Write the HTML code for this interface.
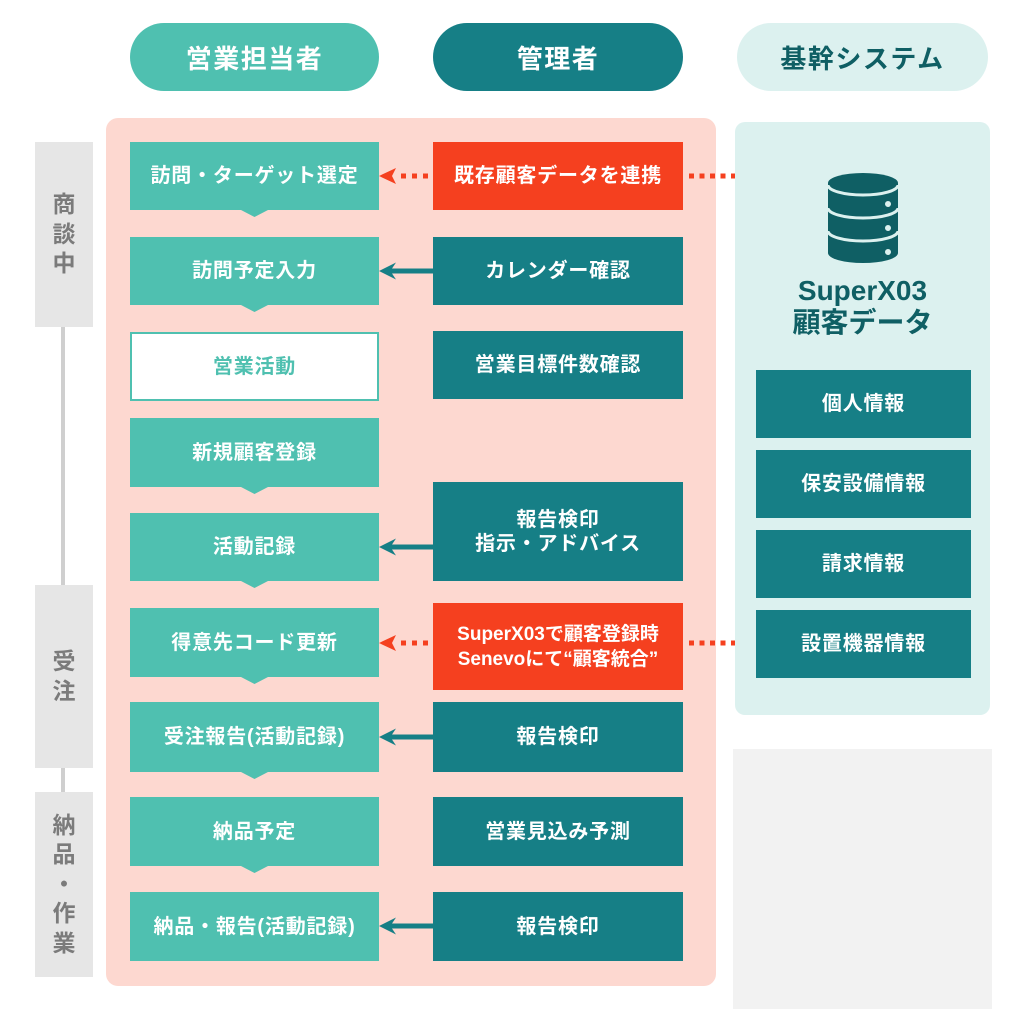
<!DOCTYPE html>
<html lang="ja">
<head>
<meta charset="utf-8">
<style>
  html, body { margin:0; padding:0; background:#ffffff; }
  body { width:1019px; height:1024px; position:relative; overflow:hidden;
    font-family:"Liberation Sans","Noto Sans CJK JP",sans-serif; font-weight:bold; }
  .a { position:absolute; box-sizing:border-box; display:flex; align-items:center; justify-content:center; text-align:center; }
  .pill { top:23px; height:68px; width:249px; border-radius:34px; font-size:26px; letter-spacing:1.5px; }
  .lt { background:#4fc0b0; color:#fff; }
  .dk { background:#167f86; color:#fff; }
  .rd { background:#f5401f; color:#fff; }
  .bx { font-size:20px; letter-spacing:0.8px; line-height:24px; }
  .L { left:130px; width:249px; }
  .M { left:433px; width:250px; }
  .R { left:756px; width:215px; }
  .stage { left:35px; width:58px; background:#e6e6e6; color:#7b7b7b; font-size:23px; line-height:29.5px; flex-direction:column; }
</style>
</head>
<body>
  <!-- headers -->
  <div class="a pill lt" style="left:130px;">営業担当者</div>
  <div class="a pill dk" style="left:433px;width:250px;">管理者</div>
  <div class="a pill" style="left:737px;width:251px;background:#dcf1ef;color:#0f5f64;">基幹システム</div>

  <!-- stage connector -->
  <div style="position:absolute;left:61px;top:320px;width:4px;height:480px;background:#cfcfcf;"></div>
  <div class="a stage" style="top:142px;height:185px;"><span>商</span><span>談</span><span>中</span></div>
  <div class="a stage" style="top:585px;height:183px;"><span>受</span><span>注</span></div>
  <div class="a stage" style="top:792px;height:185px;"><span>納</span><span>品</span><span>・</span><span>作</span><span>業</span></div>

  <!-- pink panel -->
  <div style="position:absolute;left:106px;top:118px;width:610px;height:868px;background:#fdd8d0;border-radius:12px;"></div>

  <!-- right panel -->
  <div style="position:absolute;left:735px;top:122px;width:255px;height:593px;background:#dcf1ef;border-radius:10px;"></div>
  <!-- gray panel -->
  <div style="position:absolute;left:733px;top:749px;width:259px;height:260px;background:#f2f2f2;"></div>

  <!-- left column -->
  <div class="a bx lt L" style="top:142px;height:68px;">訪問・ターゲット選定</div>
  <div class="a bx lt L" style="top:237px;height:68px;">訪問予定入力</div>
  <div class="a bx L" style="top:332px;height:69px;background:#fff;border:2px solid #4fc0b0;color:#4fc0b0;">営業活動</div>
  <div class="a bx lt L" style="top:418px;height:69px;">新規顧客登録</div>
  <div class="a bx lt L" style="top:513px;height:68px;">活動記録</div>
  <div class="a bx lt L" style="top:608px;height:69px;">得意先コード更新</div>
  <div class="a bx lt L" style="top:702px;height:70px;">受注報告(活動記録)</div>
  <div class="a bx lt L" style="top:797px;height:69px;">納品予定</div>
  <div class="a bx lt L" style="top:892px;height:69px;">納品・報告(活動記録)</div>

  <!-- middle column -->
  <div class="a bx rd M" style="top:142px;height:68px;">既存顧客データを連携</div>
  <div class="a bx dk M" style="top:237px;height:68px;">カレンダー確認</div>
  <div class="a bx dk M" style="top:331px;height:68px;">営業目標件数確認</div>
  <div class="a bx dk M" style="top:482px;height:99px;">報告検印<br>指示・アドバイス</div>
  <div class="a bx rd M" style="top:603px;height:87px;font-size:19px;letter-spacing:0;line-height:25px;">SuperX03で顧客登録時<br>Senevoにて“顧客統合”</div>
  <div class="a bx dk M" style="top:702px;height:70px;">報告検印</div>
  <div class="a bx dk M" style="top:797px;height:69px;">営業見込み予測</div>
  <div class="a bx dk M" style="top:892px;height:69px;">報告検印</div>

  <!-- right column -->
  <div class="a" style="left:735px;top:272px;width:255px;height:70px;flex-direction:column;color:#0f5f64;font-size:28px;line-height:32px;">
    <span>SuperX03</span><span>顧客データ</span>
  </div>
  <div class="a bx dk R" style="top:370px;height:68px;">個人情報</div>
  <div class="a bx dk R" style="top:450px;height:68px;">保安設備情報</div>
  <div class="a bx dk R" style="top:530px;height:68px;">請求情報</div>
  <div class="a bx dk R" style="top:610px;height:68px;">設置機器情報</div>

  <!-- overlay graphics -->
  <svg width="1019" height="1024" viewBox="0 0 1019 1024" style="position:absolute;left:0;top:0;">
    <!-- triangles under left boxes -->
    <g fill="#4fc0b0">
      <polygon points="241,210 268,210 254.5,217"/>
      <polygon points="241,305 268,305 254.5,312"/>
      <polygon points="241,487 268,487 254.5,494"/>
      <polygon points="241,581 268,581 254.5,588"/>
      <polygon points="241,677 268,677 254.5,684"/>
      <polygon points="241,772 268,772 254.5,779"/>
      <polygon points="241,866 268,866 254.5,873"/>
    </g>
    <!-- teal solid arrows -->
    <g fill="#167f86">
      <polygon points="379,271 396,262.5 392,268.5 433,268.5 433,273.5 392,273.5 396,279.5"/>
      <polygon points="379,547 396,538.5 392,544.5 433,544.5 433,549.5 392,549.5 396,555.5"/>
      <polygon points="379,737 396,728.5 392,734.5 433,734.5 433,739.5 392,739.5 396,745.5"/>
      <polygon points="379,926 396,917.5 392,923.5 433,923.5 433,928.5 392,928.5 396,934.5"/>
    </g>
    <!-- red dotted arrows -->
    <g fill="#f5401f">
      <polygon points="379,176 396,168 392,176 396,184"/>
      <rect x="401" y="173.5" width="5" height="5"/>
      <rect x="412" y="173.5" width="5" height="5"/>
      <rect x="423" y="173.5" width="5" height="5"/>
      <rect x="689" y="173.5" width="5" height="5"/>
      <rect x="699.5" y="173.5" width="5" height="5"/>
      <rect x="710" y="173.5" width="5" height="5"/>
      <rect x="720.5" y="173.5" width="5" height="5"/>
      <rect x="731" y="173.5" width="4" height="5"/>

      <polygon points="379,643 396,635 392,643 396,651"/>
      <rect x="401" y="640.5" width="5" height="5"/>
      <rect x="412" y="640.5" width="5" height="5"/>
      <rect x="423" y="640.5" width="5" height="5"/>
      <rect x="689" y="640.5" width="5" height="5"/>
      <rect x="699.5" y="640.5" width="5" height="5"/>
      <rect x="710" y="640.5" width="5" height="5"/>
      <rect x="720.5" y="640.5" width="5" height="5"/>
      <rect x="731" y="640.5" width="4" height="5"/>
    </g>
    <!-- database icon -->
    <g transform="translate(828,173)">
      <path d="M0,10 A35,10 0 0 1 70,10 L70,80 A35,10 0 0 1 0,80 Z" fill="#0f5f64"/>
      <g fill="none" stroke="#dcf1ef" stroke-width="3">
        <path d="M0,12 A35,10 0 0 0 70,12"/>
        <path d="M0,35 A35,10 0 0 0 70,35"/>
        <path d="M0,58 A35,10 0 0 0 70,58"/>
      </g>
      <g fill="#dcf1ef">
        <circle cx="60" cy="31" r="3"/>
        <circle cx="60" cy="55" r="3"/>
        <circle cx="60" cy="79" r="3"/>
      </g>
    </g>
  </svg>
</body>
</html>
